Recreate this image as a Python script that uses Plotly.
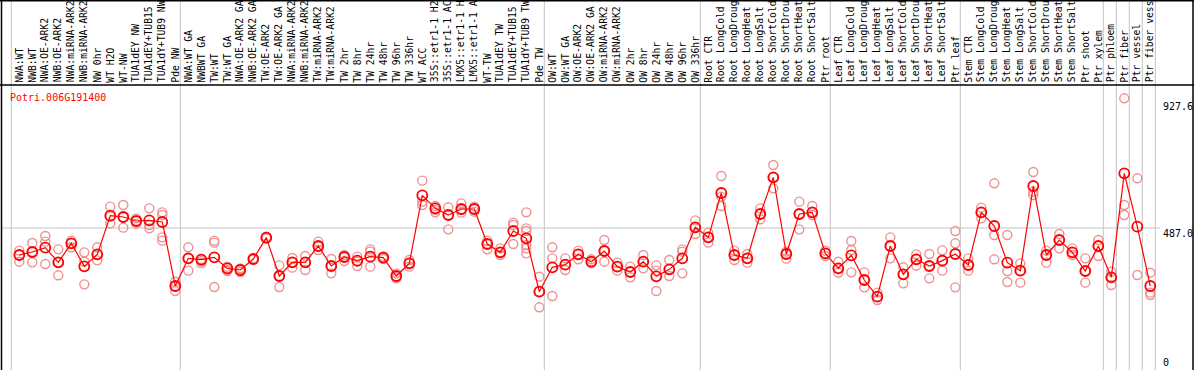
import plotly.graph_objects as go

W, H = 1194, 370

gene = "Potri.006G191400"

labels = [
    "NWA:WT", "NWB:WT", "NWA:OE-ARK2", "NWB:OE-ARK2", "NWA:miRNA-ARK2", "NWB:miRNA-ARK2",
    "NW 0hr", "WT H2O", "WT-NW", "TUA1dEY NW", "TUA1dEY+TUB15", "TUA1dY+TUB9 NW", "Pde NW",
    "NWA:WT GA", "NWBWT GA", "TW:WT", "TW:WT GA", "NWA:OE-ARK2 GA", "NWB:OE-ARK2 GA",
    "TW:OE-ARK2", "TW:OE-ARK2 GA", "NWA:miRNA-ARK2", "NWB:miRNA-ARK2", "TW:miRNA-ARK2",
    "TW:miRNA-ARK2", "TW 2hr", "TW 8hr", "TW 24hr", "TW 48hr", "TW 96hr", "TW 336hr",
    "WT ACC", "35S::etr1-1 H2", "35S::etr1-1 AC", "LMX5::etr1-1 H", "LMX5::etr1-1 A",
    "WT-TW", "TUA1dEY TW", "TUA1dEY+TUB15", "TUA1dY+TUB9 TW", "Pde TW",
    "OW:WT", "OW:WT GA", "OW:OE-ARK2", "OW:OE-ARK2 GA", "OW:miRNA-ARK2", "OW:miRNA-ARK2",
    "OW 2hr", "OW 8hr", "OW 24hr", "OW 48hr", "OW 96hr", "OW 336hr",
    "Root CTR", "Root LongCold", "Root LongDroug", "Root LongHeat", "Root LongSalt",
    "Root ShortCold", "Root ShortDrou", "Root ShortHeat", "Root ShortSalt", "Ptr root",
    "Leaf CTR", "Leaf LongCold", "Leaf LongDroug", "Leaf LongHeat", "Leaf LongSalt",
    "Leaf ShortCold", "Leaf ShortDrou", "Leaf ShortHeat", "Leaf ShortSalt", "Ptr leaf",
    "Stem CTR", "Stem LongCold", "Stem LongDroug", "Stem LongHeat", "Stem LongSalt",
    "Stem ShortCold", "Stem ShortDrou", "Stem ShortHeat", "Stem ShortSalt",
    "Ptr shoot", "Ptr xylem", "Ptr phloem", "Ptr fiber", "Ptr vessel", "Ptr fiber vess",
]

means = [
    391.8, 402.4, 417.7, 366.0, 433.0, 351.9, 394.2, 530.5, 525.8, 511.7, 514.0, 508.2, 282.5,
    380.1, 375.4, 383.6, 344.8, 339.0, 377.7, 452.9, 317.8, 366.0, 366.0, 423.5, 353.1, 384.8,
    371.9, 386.0, 382.4, 317.8, 362.4, 602.1, 556.3, 532.8, 554.0, 554.0, 430.6, 401.2, 476.4,
    450.6, 262.6,
    348.4, 357.7, 394.2, 368.3, 405.9, 350.7, 331.9, 368.3, 316.6, 341.3, 380.1, 489.4,
    454.1, 610.4, 391.8, 380.1, 536.4, 665.6, 395.4, 536.4, 542.2, 397.7,
    344.8, 390.7, 303.7, 245.0, 423.5, 323.7, 376.6, 353.1, 371.9, 395.4,
    356.6, 542.2, 494.1, 364.8, 336.6, 635.1, 391.8, 444.7, 401.2, 335.4, 423.5,
    313.1, 679.7, 491.7, 282.5,
]

replicates = [
    [407.1, 391.8, 368.3], [434.1, 402.4, 366.0], [458.8, 438.8, 360.1], [411.8, 366.0, 320.2],
    [442.4, 433.0, 418.9], [401.2, 368.3, 288.4], [418.9, 394.2, 373.0], [562.2, 527.0, 503.4],
    [568.1, 524.6, 488.2], [521.1, 511.7, 502.3], [556.3, 497.6, 485.8],
    [542.2, 532.8, 454.1, 442.4], [297.8, 280.2, 264.9],
    [418.9, 380.1, 336.6], [377.7, 370.7, 363.6], [442.4, 435.3, 279.0], [350.7, 339.0, 335.4],
    [344.8, 339.0, 331.9], [380.1, 377.7, 375.4], [456.5, 452.9, 449.4], [355.4, 317.8, 279.0],
    [381.3, 366.0, 347.2], [388.3, 366.0, 339.0], [438.8, 421.2, 409.4], [377.7, 353.1, 327.2],
    [391.8, 384.8, 370.7], [386.0, 368.3, 353.1], [411.8, 403.6, 350.7], [387.1, 382.4, 377.7],
    [327.2, 315.4, 309.6], [374.2, 362.4, 350.7], [653.9, 579.8, 568.1], [564.5, 550.5, 542.2],
    [559.9, 532.8, 482.3], [573.9, 550.5, 541.1], [562.2, 554.0, 544.6], [442.4, 430.6, 411.8],
    [415.3, 401.2, 391.8], [505.8, 497.6, 430.6],
    [542.2, 485.8, 476.4, 427.1, 415.3, 397.7], [315.4, 262.6, 207.4],
    [418.9, 380.1, 247.3], [380.1, 357.7, 339.0], [407.1, 394.2, 376.6], [376.6, 368.3, 362.4],
    [444.7, 405.9, 368.3], [364.8, 350.7, 336.6], [350.7, 331.9, 313.1], [391.8, 368.3, 344.8],
    [355.4, 336.6, 264.9], [374.2, 341.3, 317.8], [411.8, 403.6, 327.2], [514.0, 489.4, 465.9],
    [470.6, 454.1, 435.3], [670.3, 597.5, 564.5], [407.1, 391.8, 374.2], [395.4, 380.1, 364.8],
    [556.3, 536.4, 517.6], [709.1, 665.6, 626.8], [403.6, 395.4, 378.9], [579.8, 536.4, 482.3],
    [564.5, 542.2, 532.8], [407.1, 397.7, 388.3],
    [368.3, 344.8, 329.5], [441.2, 409.4, 330.7], [330.7, 303.7, 277.8], [259.1, 245.0, 233.2],
    [454.1, 423.5, 380.1], [348.4, 323.7, 291.9], [394.2, 376.6, 354.2], [395.4, 353.1, 309.6],
    [408.3, 371.9, 336.6], [476.4, 433.0, 277.8],
    [380.1, 356.6, 336.6], [558.7, 542.2, 521.1], [644.5, 462.3, 376.6], [462.3, 335.4, 296.7],
    [362.4, 336.6, 294.3], [684.4, 615.1, 603.3], [407.1, 391.8, 364.8], [465.9, 444.7, 415.3],
    [415.3, 401.2, 391.8], [380.1, 335.4, 294.3], [444.7, 423.5, 388.3],
    [333.1, 313.1, 286.1], [944.1, 568.1, 532.8], [662.1, 321.3], [329.5, 259.1, 250.9],
]

group_breaks = [0, 13, 41, 53, 63, 73, 84, 85, 86, 87, 88]
axis_ticks = [927.6, 487.0, 0]
tick_text = ["927.6", "487.0", "0"]

mono = "DejaVu Sans Mono"
n = len(labels)
x = list(range(n))

# pixel layout helpers (layout geometry only)
def xpx(px):
    return px / W

def ypx(py):
    return 1 - py / H

# column i point centre at 19.3 + 13*i px ; value v at 228 - (v-487)*0.2837 px
x0 = -19.3 / 13
x1 = (W - 19.3) / 13
s = 125 / 440.6
y_top = 487 + 228 / s
y_bot = 487 - (H - 228) / s

fig = go.Figure()

rx, ry = [], []
for i, reps in enumerate(replicates):
    for v in reps:
        rx.append(i)
        ry.append(v)

rep_col = "rgb(238,145,145)"
fig.add_trace(go.Scatter(
    x=rx, y=ry, mode="markers",
    marker=dict(symbol="circle-open", size=9, color=rep_col,
                line=dict(width=1.4, color=rep_col)),
    hoverinfo="skip", showlegend=False,
))
fig.add_trace(go.Scatter(
    x=x, y=means, mode="lines+markers",
    line=dict(color="#ff0000", width=1.2),
    marker=dict(symbol="circle-open", size=10, color="#ff0000",
                line=dict(width=1.8, color="#ff0000")),
    text=labels, showlegend=False,
))

shapes = []
for k in group_breaks:
    xb = k - 8 / 13
    shapes.append(dict(type="line", xref="x", yref="paper", x0=xb, x1=xb, y0=0, y1=1,
                       line=dict(color="#c4c4c4", width=1), layer="below"))
shapes.append(dict(type="line", xref="paper", yref="y", x0=xpx(2), x1=xpx(1160),
                   y0=axis_ticks[1], y1=axis_ticks[1],
                   line=dict(color="#c4c4c4", width=1), layer="below"))
shapes.append(dict(type="line", xref="paper", yref="paper", x0=xpx(1.5), x1=xpx(1.5), y0=0, y1=1,
                   line=dict(color="black", width=1.5)))
shapes.append(dict(type="line", xref="paper", yref="paper", x0=xpx(1193), x1=xpx(1193), y0=0, y1=1,
                   line=dict(color="black", width=1.5)))
shapes.append(dict(type="line", xref="paper", yref="paper", x0=0, x1=1, y0=ypx(0.7), y1=ypx(0.7),
                   line=dict(color="black", width=1.5)))
shapes.append(dict(type="line", xref="paper", yref="paper", x0=0, x1=1, y0=ypx(85), y1=ypx(85),
                   line=dict(color="black", width=1.5)))

annotations = []
for i, lab in enumerate(labels):
    annotations.append(dict(
        x=i - 0.05, xref="x", y=ypx(83.5), yref="paper", text=lab, showarrow=False,
        textangle=-90, xanchor="center", yanchor="bottom",
        font=dict(family=mono, size=9.7, color="black"), borderpad=0,
    ))
annotations.append(dict(
    x=xpx(9), y=ypx(97), xref="paper", yref="paper", text=gene, showarrow=False,
    xanchor="left", yanchor="middle", font=dict(family=mono, size=10, color="#ff0000"),
    borderpad=0,
))
tick_py = [107, 233, 362]
for t, py in zip(tick_text, tick_py):
    annotations.append(dict(
        x=xpx(1162), y=ypx(py), xref="paper", yref="paper", text=t, showarrow=False,
        xanchor="left", yanchor="middle", font=dict(family=mono, size=10, color="black"),
        borderpad=0,
    ))

fig.update_layout(
    width=W, height=H,
    margin=dict(l=0, r=0, t=0, b=0),
    paper_bgcolor="white", plot_bgcolor="white",
    xaxis=dict(range=[x0, x1], visible=False, fixedrange=True),
    yaxis=dict(range=[y_bot, y_top], visible=False, fixedrange=True),
    shapes=shapes, annotations=annotations,
    showlegend=False,
)

fig.write_html(
    "out.html",
    config={"displayModeBar": False},
    post_script="document.body.style.margin='0';document.body.style.overflow='hidden';",
)
